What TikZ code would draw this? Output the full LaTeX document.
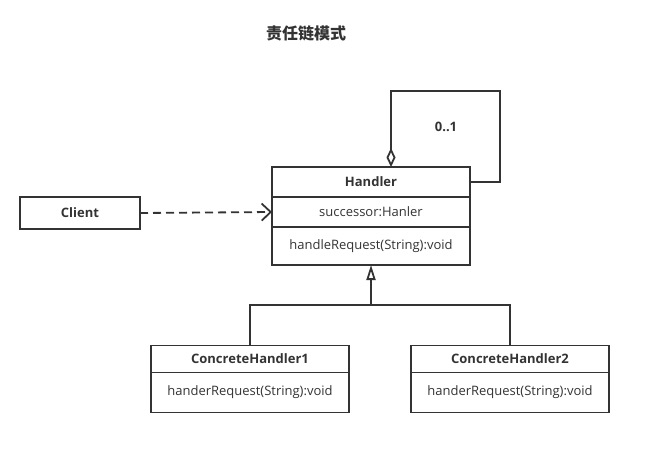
\documentclass[tikz,border=0pt]{standalone}
\usepackage{fontspec}
\setmainfont{Open Sans}
\newfontfamily\cjk{Noto Sans CJK SC}
\usepackage{tikz}
\usetikzlibrary{arrows.meta, shapes, positioning}
\usepackage{xcolor}
\definecolor{umlgray}{RGB}{51,51,51}
\tikzset{classpart/.style={rectangle, draw=umlgray, line width=1.8pt, text=umlgray, minimum width=198pt, inner sep=0pt, outer sep=0pt, font=\fontsize{13}{15}\selectfont},
titlepart/.style={classpart, font=\fontsize{13}{15}\selectfont\bfseries}}

\begin{document}
\begin{tikzpicture}[
        x=1pt, y=-1pt,
        line join=miter,
        umlline/.style={draw=umlgray, line width=1.8pt},
        dependency/.style={umlline, dash pattern=on 8pt off 5pt, -{Straight Barb[length=9pt, width=17pt, line width=1.8pt]}},
        aggregation/.style={umlline, {Diamond[open, length=19pt, width=9pt, line width=1.8pt]}-},
        inheritance/.style={umlline, -{Triangle[open, length=15pt, width=9pt, line width=1.8pt]}}
    ]
        \useasboundingbox (0,0) rectangle (647,463);
        % Title
        \node[text=umlgray, font=\cjk\fontsize{16}{18}\selectfont\bfseries] (title) at (306,33) {责任链模式};
        % Classes
        \node[titlepart, minimum width=120pt, minimum height=32pt] (client) at (80,213) {Client};
        \node[titlepart, minimum height=30pt] (handlerName) at (371,182) {Handler};
        \node[classpart, minimum height=30pt, below=0pt of handlerName] (handlerAttr) {successor:Hanler};
        \node[classpart, minimum height=38pt, below=0pt of handlerAttr] (handlerOp) {handleRequest(String):void};
        \node[titlepart, minimum height=27pt] (concreteName1) at (250,359) {ConcreteHandler1};
        \node[classpart, minimum height=40pt, below=0pt of concreteName1] (concreteOp1) {handerRequest(String):void};
        \node[titlepart, minimum height=27pt] (concreteName2) at (510,359) {ConcreteHandler2};
        \node[classpart, minimum height=40pt, below=0pt of concreteName2] (concreteOp2) {handerRequest(String):void};
        % Relations
        \coordinate (loopCorner) at (500,91);
        \coordinate (split) at (371,305);
        \draw[dependency] (client.east) -- (handlerAttr.west);
        \draw[aggregation] ([xshift=20pt]handlerName.north) |- (loopCorner) |- (handlerName.east);
        \node[text=umlgray, font=\fontsize{13}{15}\selectfont\bfseries] (multiplicity) at (446,127) {0..1};
        \draw[umlline] (concreteName1.north) |- (split) -| (concreteName2.north);
        \draw[inheritance] (split) -- (handlerOp.south);
    \end{tikzpicture}
\end{document}
